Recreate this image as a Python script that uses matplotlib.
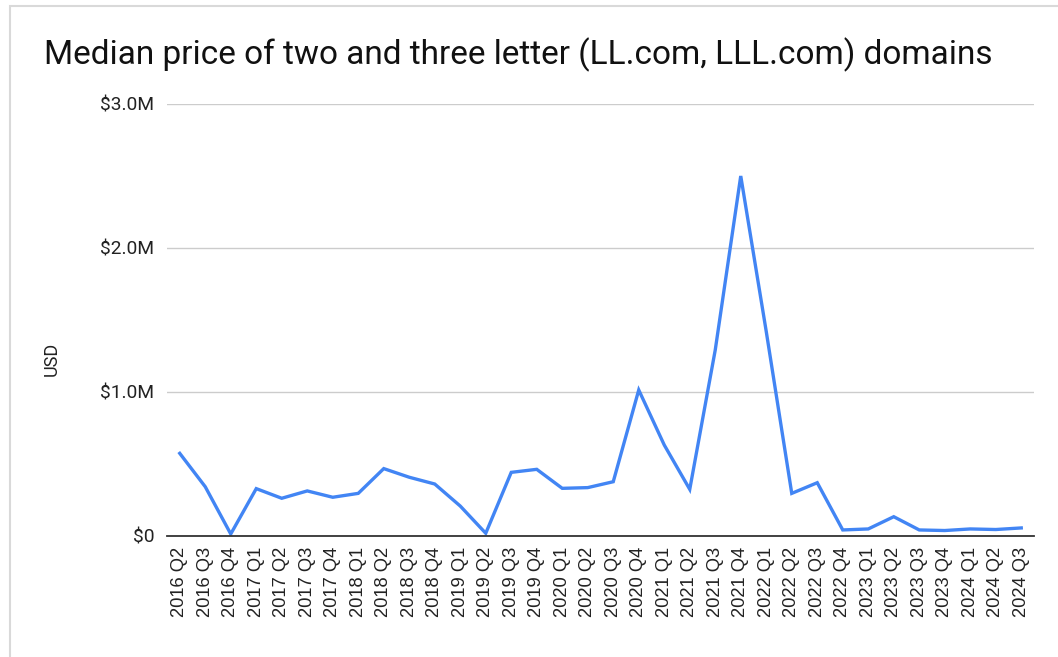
import matplotlib
matplotlib.use("Agg")
import matplotlib.pyplot as plt
from matplotlib.ticker import FuncFormatter
from matplotlib.patches import Rectangle

quarters = ["2016 Q2", "2016 Q3", "2016 Q4", "2017 Q1", "2017 Q2", "2017 Q3", "2017 Q4",
            "2018 Q1", "2018 Q2", "2018 Q3", "2018 Q4", "2019 Q1", "2019 Q2", "2019 Q3",
            "2019 Q4", "2020 Q1", "2020 Q2", "2020 Q3", "2020 Q4", "2021 Q1", "2021 Q2",
            "2021 Q3", "2021 Q4", "2022 Q1", "2022 Q2", "2022 Q3", "2022 Q4", "2023 Q1",
            "2023 Q2", "2023 Q3", "2023 Q4", "2024 Q1", "2024 Q2", "2024 Q3"]
median_price = [574000, 342000, 14000, 329000, 262000, 313000, 269000,
                296000, 468000, 408000, 361000, 208000, 19000, 442000,
                463000, 331000, 336000, 377000, 1014000, 632000, 324000,
                1292000, 2500000, 1420000, 296000, 370000, 42000, 49000,
                134000, 42000, 38000, 49000, 45000, 56000]
y_ticks = [0, 1000000, 2000000, 3000000]

title = "Median price of two and three letter (LL.com, LLL.com) domains"

W, H = 1058, 657
fig = plt.figure(figsize=(W / 100, H / 100), dpi=100)
fig.patch.set_facecolor("white")

# card border / shadow
fig.patches.append(Rectangle((10 / W, -0.1), 1.2, (H - 6) / H + 0.1,
                             transform=fig.transFigure, facecolor="white",
                             edgecolor="#d9d9d9", linewidth=1.5, zorder=-5))

ax = fig.add_axes([167 / W, 1 - 536 / H, (1034 - 167) / W, (536 - 104) / H])
ax.set_facecolor("none")
ax.set_zorder(2)

x = list(range(len(quarters)))
ax.plot(x, median_price, color="#4285F4", linewidth=2.4, solid_joinstyle="miter", zorder=3)

ax.set_xlim(-0.5, len(quarters) - 0.5)
ax.set_ylim(0, 3000000)
ax.set_yticks(y_ticks)

def fmt(v, pos):
    if v == 0:
        return "$0"
    return "${:.1f}M".format(v / 1e6)

ax.yaxis.set_major_formatter(FuncFormatter(fmt))
ax.set_xticks(x)
ax.set_xticklabels(quarters, rotation=90, fontsize=13.2, family="Liberation Sans", color="#222222")
for lab in ax.get_yticklabels():
    lab.set_family("Roboto")
    lab.set_fontsize(13.8)
    lab.set_color("#222222")

ax.grid(axis="y", color="#cccccc", linewidth=1.0)
ax.set_axisbelow(True)
for s in ["top", "right", "left"]:
    ax.spines[s].set_visible(False)
ax.spines["bottom"].set_color("#333333")
ax.spines["bottom"].set_linewidth(1.3)
ax.spines["bottom"].set_zorder(4)
ax.tick_params(axis="both", length=0)
ax.tick_params(axis="y", pad=9)
ax.tick_params(axis="x", pad=8)

fig.text(52 / W, 1 - 359 / H, "USD", rotation=90, ha="center", va="center",
         fontsize=13, family="Roboto", color="#222222", zorder=5)
fig.text(44 / W, 1 - 55 / H, title, ha="left", va="center",
         fontsize=24, family="Roboto", color="#111111", zorder=5)

fig.savefig("out.png", dpi=100)
